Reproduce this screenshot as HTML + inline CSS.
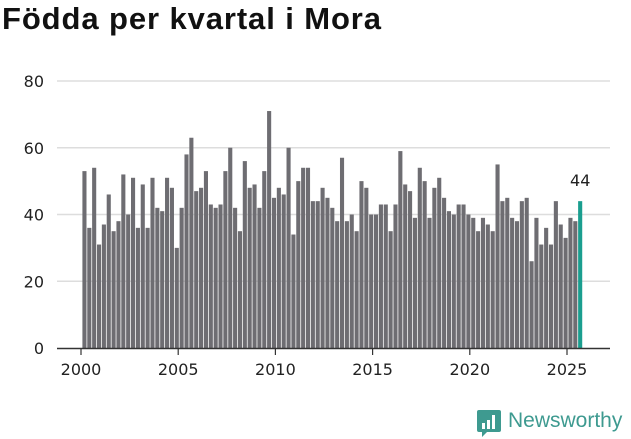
<!DOCTYPE html>
<html><head><meta charset="utf-8">
<style>
body{margin:0;width:631px;height:439px;background:#fff;overflow:hidden;font-family:"Liberation Sans",sans-serif;}
#title{position:absolute;left:2px;top:1px;font-size:31px;font-weight:bold;color:#111;margin:0;letter-spacing:0.9px}
</style></head><body>
<h1 id="title">Födda per kvartal i Mora</h1>
<svg id="chart" width="631" height="439" style="position:absolute;left:0;top:0"></svg>
<script>
const years=[2000,2005,2010,2015,2020,2025];
const yTicks=[0,20,40,60,80];
const births=[53,36,54,31, 37,46,35,38, 52,40,51,36, 49,36,51,42, 41,51,48,30,
42,58,63,47, 48,53,43,42, 43,53,60,42, 35,56,48,49, 42,53,71,45,
48,46,60,34, 50,54,54,44, 44,48,45,42, 38,57,38,40, 35,50,48,40,
40,43,43,35, 43,59,49,47, 39,54,50,39, 48,51,45,41, 40,43,43,40,
39,35,39,37, 35,55,44,45, 39,38,44,45, 26,39,31,36, 31,44,37,33,
39,38,44];
const startYear=2000;
const NS="http://www.w3.org/2000/svg";
const svg=document.getElementById('chart');
const x=t=>81+(t-2000)*19.44;
const y=v=>348-v*3.3375;
function mk(tag,attrs){const e=document.createElementNS(NS,tag);for(const k in attrs)e.setAttribute(k,attrs[k]);svg.appendChild(e);return e;}
yTicks.forEach(v=>{
  if(v>0){const g=mk('line',{x1:57,x2:610,y1:y(v),y2:y(v),stroke:'#ddd','stroke-width':1.5});
  
  }
  const t=mk('text',{x:44,y:y(v)+6,'text-anchor':'end','font-size':16,fill:'#222','font-family':'DejaVu Sans, sans-serif'});
  t.textContent=v;
  
  
});
births.forEach((v,i)=>{
  const t=startYear+i/4;
  const last=i===births.length-1;
  const r=mk('rect',{x:x(t)+1.4,y:y(v),width:4.1,height:348-y(v),fill:last?'#1a9e8f':'#6e6d72'});
  
  
  if(last){const l=mk('text',{x:x(t)+3.5,y:y(v)-15,'text-anchor':'middle','font-size':16,fill:'#222','font-family':'DejaVu Sans, sans-serif'});
  l.textContent=v;
  
  }
});
const ax=mk('line',{x1:57,x2:610,y1:348.5,y2:348.5,stroke:'#333','stroke-width':1.5});


years.forEach(yr=>{
  const tk=mk('line',{x1:x(yr),x2:x(yr),y1:349,y2:355,stroke:'#333','stroke-width':1.2});
  
  
  const t=mk('text',{x:x(yr),y:375,'text-anchor':'middle','font-size':16,fill:'#222','font-family':'DejaVu Sans, sans-serif'});
  t.textContent=yr;
  
  
});
</script>
<div style="position:absolute;left:476px;top:409px;height:30px;display:flex;align-items:flex-start;white-space:nowrap">
<svg width="26" height="30"><path d="M3,1h20a2,2 0 0 1 2,2v18a2,2 0 0 1-2,2H11l-5,5v-5H3a2,2 0 0 1-2-2V3a2,2 0 0 1 2-2z" fill="#3e9a90"/><rect x="6" y="14" width="3" height="6" fill="#fff"/><rect x="11" y="11" width="3" height="9" fill="#fff"/><rect x="16" y="6" width="3" height="14" fill="#fff"/></svg>
<span style="color:#3e9a90;font-size:21px;font-family:'Liberation Sans',sans-serif;margin-left:6px;line-height:24px">Newsworthy</span>
</div>
</body></html>
